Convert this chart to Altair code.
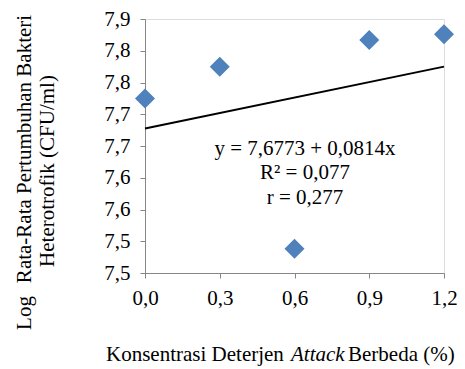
import altair as alt
import pandas as pd

# ---- data ----
konsentrasi = [0.0, 0.3, 0.6, 0.9, 1.2]
log_bakteri = [7.775, 7.825, 7.538, 7.867, 7.876]

x_ticks = [0.0, 0.3, 0.6, 0.9, 1.2]
x_tick_labels = ["0,0", "0,3", "0,6", "0,9", "1,2"]
y_ticks = [7.50, 7.55, 7.60, 7.65, 7.70, 7.75, 7.80, 7.85, 7.90]
y_tick_labels = ["7,5", "7,5", "7,6", "7,6", "7,7", "7,7", "7,8", "7,8", "7,9"]

equation_lines = ["y = 7,6773 + 0,0814x", "R\u00b2 = 0,077", "r = 0,277"]
y_title_parts = ["Log", "Rata-Rata Pertumbuhan Bakteri", "Heterotrofik (CFU/ml)"]
x_title_parts = ["Konsentrasi Deterjen", "Attack", "Berbeda (%)"]

FONT = "Liberation Serif"
FS = 21
AXIS_GRAY = "#868686"
W, H = 299, 254

df = pd.DataFrame({"x": konsentrasi, "y": log_bakteri})

x_label_expr = "[" + ",".join(f"'{s}'" for s in x_tick_labels) + "][round(datum.value / 0.3)]"
y_label_expr = "[" + ",".join(f"'{s}'" for s in y_tick_labels) + "][round((datum.value - 7.5) / 0.05)]"

x_enc = alt.X(
    "x:Q",
    scale=alt.Scale(domain=[0, 1.2], nice=False, zero=False),
    axis=alt.Axis(
        values=x_ticks, labelExpr=x_label_expr, title=None, grid=False,
        domainColor=AXIS_GRAY, tickColor=AXIS_GRAY, tickSize=5,
        labelFont=FONT, labelFontSize=FS, labelColor="black", labelPadding=9,
        labelFlush=False, labelOverlap=False,
    ),
)
y_enc = alt.Y(
    "y:Q",
    scale=alt.Scale(domain=[7.5, 7.9], nice=False, zero=False),
    axis=alt.Axis(
        values=y_ticks, labelExpr=y_label_expr, title=None, grid=False,
        domainColor=AXIS_GRAY, tickColor=AXIS_GRAY, tickSize=5,
        labelFont=FONT, labelFontSize=FS, labelColor="black", labelPadding=10,
        labelFlush=False, labelOverlap=False,
    ),
)

base = alt.Chart(df)

trend = base.transform_regression("x", "y", extent=[0, 1.2]).mark_line(
    color="black", strokeWidth=2
).encode(x=x_enc, y=y_enc)

points = base.mark_point(
    shape="diamond", filled=True, size=400, color="#4F81BD", opacity=1
).encode(x=x_enc, y=y_enc)


def text_layer(label, x, y, align="center", baseline="alphabetic", angle=None, style="normal"):
    kw = dict(font=FONT, fontSize=FS, color="black", align=align, baseline=baseline, fontStyle=style)
    if angle is not None:
        kw["angle"] = angle
    return alt.Chart(pd.DataFrame({"t": [label]})).mark_text(**kw).encode(
        text="t:N", x=alt.value(x), y=alt.value(y)
    )


eq_layers = [
    text_layer(equation_lines[0], 160, 136),
    text_layer(equation_lines[1], 160, 160),
    text_layer(equation_lines[2], 160, 185),
]
ytitle_layers = [
    text_layer(y_title_parts[0], -120, 294, baseline="middle", angle=270),
    text_layer(y_title_parts[1], -120, 130, baseline="middle", angle=270),
    text_layer(y_title_parts[2], -97, 152, baseline="middle", angle=270),
]
xtitle_layers = [
    text_layer(x_title_parts[0], -39, 342, align="left"),
    text_layer(x_title_parts[1], 146, 342, align="left", style="italic"),
    text_layer(x_title_parts[2], 203, 342, align="left"),
]

chart = alt.layer(trend, points, *eq_layers, *ytitle_layers, *xtitle_layers).properties(
    width=W, height=H,
    autosize=alt.AutoSizeParams(type="none"),
    padding={"left": 137, "top": 11, "right": 13, "bottom": 96},
).configure_view(stroke=None).configure(background="white")

chart.save("out.html", embed_options={"renderer": "svg", "actions": False})
